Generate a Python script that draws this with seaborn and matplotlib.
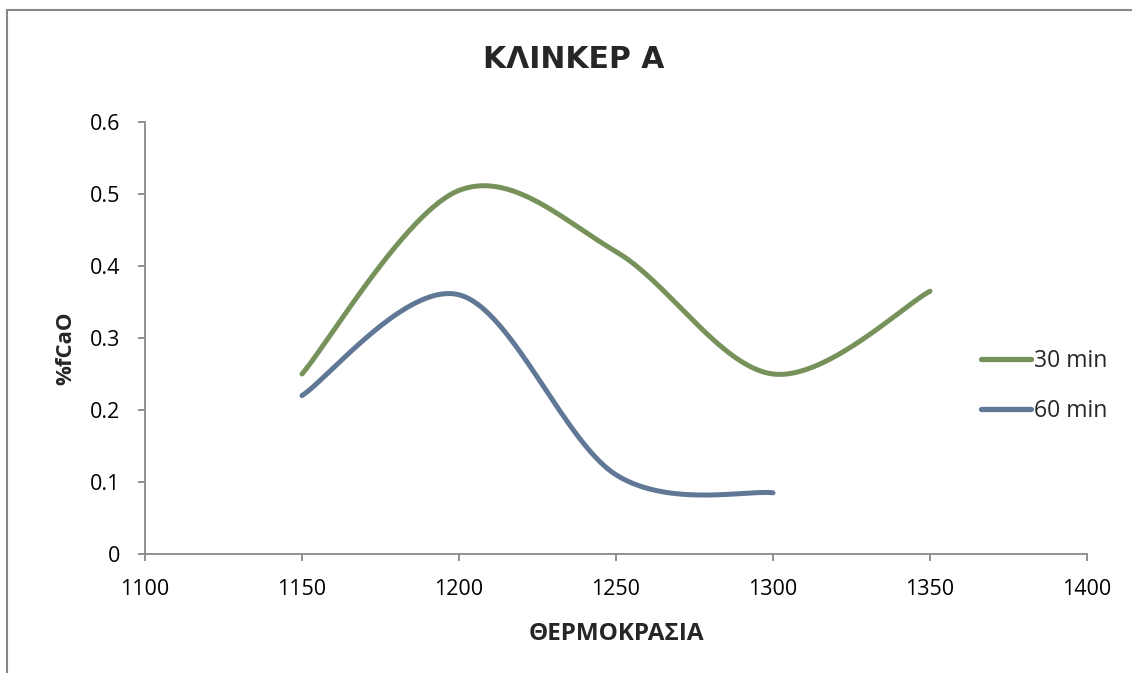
import numpy as np
import pandas as pd
import matplotlib
matplotlib.use("Agg")
import matplotlib.pyplot as plt
import seaborn as sns

# ---- data ----
temps_30 = [1150, 1200, 1250, 1300, 1350]
fcao_30 = [0.25, 0.505, 0.42, 0.25, 0.365]
temps_60 = [1150, 1200, 1250, 1300]
fcao_60 = [0.22, 0.36, 0.11, 0.085]
series_names = ["30 min", "60 min"]
x_ticks = [1100, 1150, 1200, 1250, 1300, 1350, 1400]
y_ticks = [0, 0.1, 0.2, 0.3, 0.4, 0.5, 0.6]
title = "ΚΛΙΝΚΕΡ Α"
x_label = "ΘΕΡΜΟΚΡΑΣΙΑ"
y_label = "%fCaO"

colors = {"30 min": "#76925A", "60 min": "#607896"}


def smooth(xs, ys, n=60):
    """Excel-style smoothed line (Catmull-Rom Bezier) through the data points."""
    P = np.column_stack([xs, ys]).astype(float)
    pts = []
    m = len(P)
    for i in range(m - 1):
        p0 = P[max(i - 1, 0)]
        p1 = P[i]
        p2 = P[i + 1]
        p3 = P[min(i + 2, m - 1)]
        c1 = p1 + (p2 - p0) / 6.0
        c2 = p2 - (p3 - p1) / 6.0
        t = np.linspace(0, 1, n)[:, None]
        seg = ((1 - t) ** 3) * p1 + 3 * ((1 - t) ** 2) * t * c1 + 3 * (1 - t) * t ** 2 * c2 + t ** 3 * p2
        if i > 0:
            seg = seg[1:]
        pts.append(seg)
    return np.vstack(pts)


frames = []
for name, xs, ys in [("30 min", temps_30, fcao_30), ("60 min", temps_60, fcao_60)]:
    c = smooth(xs, ys)
    frames.append(pd.DataFrame({"T": c[:, 0], "v": c[:, 1], "series": name}))
df = pd.concat(frames, ignore_index=True)

sns.set_style("white")
plt.rcParams["font.family"] = ["Open Sans", "DejaVu Sans"]

fig = plt.figure(figsize=(11.32, 6.73), dpi=100)
ax = fig.add_axes([145 / 1132, 1 - 554 / 673, (1087 - 145) / 1132, (554 - 122) / 673])

sns.lineplot(data=df, x="T", y="v", hue="series", hue_order=series_names, palette=colors,
             sort=False, estimator=None, units="series", linewidth=3.6, ax=ax, legend=True,
             solid_capstyle="round")

ax.set_xlim(1100, 1400)
ax.set_ylim(0, 0.6)
ax.set_xticks(x_ticks)
ax.set_xticklabels([str(v) for v in x_ticks])
ax.set_yticks(y_ticks)
ax.set_yticklabels(["0" if v == 0 else f"{v:.1f}" for v in y_ticks])

for s in ["top", "right"]:
    ax.spines[s].set_visible(False)
for s in ["left", "bottom"]:
    ax.spines[s].set_color("#888888")
    ax.spines[s].set_linewidth(1.3)
ax.tick_params(axis="both", bottom=True, left=True, direction="out", length=5, width=1.3,
               color="#888888", labelsize=15.5, labelcolor="black")
ax.tick_params(axis="x", pad=13)
ax.tick_params(axis="y", pad=13)

ax.set_xlabel(x_label, fontsize=17.5, fontweight="bold", labelpad=16)
ax.set_ylabel(y_label, fontsize=16, fontweight="bold")
ax.yaxis.set_label_coords((76 - 145) / (1087 - 145), (554 - 348) / 432)

leg = ax.legend(loc="center left", bbox_to_anchor=(981 / 1132, 1 - 386 / 673),
                bbox_transform=fig.transFigure, frameon=False, fontsize=16.5,
                handlelength=2.2, handletextpad=0.1, labelspacing=1.1, borderaxespad=0,
                borderpad=0)
for line in leg.get_lines():
    line.set_linewidth(3.8)
    line.set_solid_capstyle("round")

fig.text(574 / 1132, 1 - 59 / 673, title, ha="center", va="center", fontsize=21.5,
         fontweight="bold", family=["DejaVu Sans"])

# figure border (left and top)
fig.add_artist(plt.Line2D([7 / 1132, 7 / 1132], [0, 1 - 10 / 673], transform=fig.transFigure,
                          color="#888888", linewidth=1.5))
fig.add_artist(plt.Line2D([7 / 1132, 1], [1 - 10 / 673, 1 - 10 / 673], transform=fig.transFigure,
                          color="#888888", linewidth=1.5))

fig.savefig("out.png", dpi=100)
